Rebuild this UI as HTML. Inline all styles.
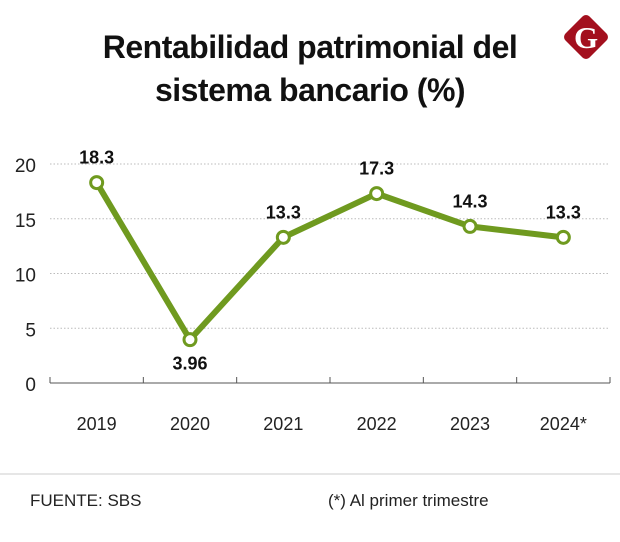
<!DOCTYPE html>
<html><head><meta charset="utf-8"><style>
body{margin:0;background:#fff;width:620px;height:537px;overflow:hidden;font-family:"Liberation Sans",sans-serif;}
</style></head><body>
<svg width="620" height="537">
<text x="310" y="58" text-anchor="middle" font-size="32" font-weight="bold" fill="#111" letter-spacing="-0.5">Rentabilidad patrimonial del</text>
<text x="310" y="101" text-anchor="middle" font-size="32" font-weight="bold" fill="#111" letter-spacing="-0.5">sistema bancario (%)</text>
<g>
<rect x="569" y="20" width="34" height="34" rx="5" fill="#a3101e" transform="rotate(45 586 37)"/>
<text x="586" y="48" text-anchor="middle" font-size="31" font-weight="bold" font-family="Liberation Serif,serif" fill="#fff">G</text>
</g>
<g id="grid"></g><g id="axes"></g><g id="series"></g>
<line x1="0" y1="474" x2="620" y2="474" stroke="#ccc"/>
<text x="30" y="506" font-size="17" fill="#222">FUENTE: SBS</text>
<text x="328" y="506" font-size="17" fill="#222">(*) Al primer trimestre</text>
</svg>
<script>
const categories=["2019","2020","2021","2022","2023","2024"];
const values=[18.3,3.96,13.3,17.3,14.3,13.3];
const valueLabels=["18.3","3.96","13.3","17.3","14.3","13.3"];
const yTicks=[0,5,10,15,20];
const NS="http://www.w3.org/2000/svg";
const x0=50,x1=610,y0=383,yk=10.95;
const bw=(x1-x0)/categories.length;
const xs=i=>x0+bw*(i+0.5);
const ys=v=>y0-v*yk;
function mk(t,a,p){const e=document.createElementNS(NS,t);for(const k in a)e.setAttribute(k,a[k]);p.appendChild(e);return e;}
const grid=document.getElementById('grid'),axes=document.getElementById('axes'),ser=document.getElementById('series');
yTicks.forEach(v=>{
 if(v>0){const l=mk('line',{x1:x0,x2:x1,y1:ys(v),y2:ys(v),stroke:'#bbb','stroke-dasharray':'1.5 2'},grid);
 
 }
 const t=mk('text',{x:36,y:ys(v)+8,'text-anchor':'end','font-size':19,fill:'#222'},axes);t.textContent=v;
 
 
});
const ax=mk('line',{x1:x0,x2:x1,y1:y0,y2:y0,stroke:'#555','stroke-width':1},axes);


for(let i=0;i<=categories.length;i++){const tk=mk('line',{x1:x0+bw*i,x2:x0+bw*i,y1:y0-6,y2:y0,stroke:'#555'},axes);
 
 }
categories.forEach((c,i)=>{const t=mk('text',{x:xs(i),y:430,'text-anchor':'middle','font-size':18,fill:'#222'},axes);
 t.textContent=c+(i===categories.length-1?'*':'');
 
 });
const pl=mk('polyline',{points:values.map((v,i)=>xs(i)+','+ys(v)).join(' '),fill:'none',stroke:'#6f9a1f','stroke-width':6,'stroke-linejoin':'round'},ser);


values.forEach((v,i)=>{
 const c=mk('circle',{cx:xs(i),cy:ys(v),r:6,fill:'#fff',stroke:'#6f9a1f','stroke-width':3},ser);
 
 
 const below=i>0&&i<values.length-1&&v<values[i-1]&&v<values[i+1];
 const t=mk('text',{x:xs(i),y:below?ys(v)+30:ys(v)-19,'text-anchor':'middle','font-size':18,'font-weight':'bold',fill:'#111'},ser);
 t.textContent=valueLabels[i];
 
 
});
</script>
</body></html>
